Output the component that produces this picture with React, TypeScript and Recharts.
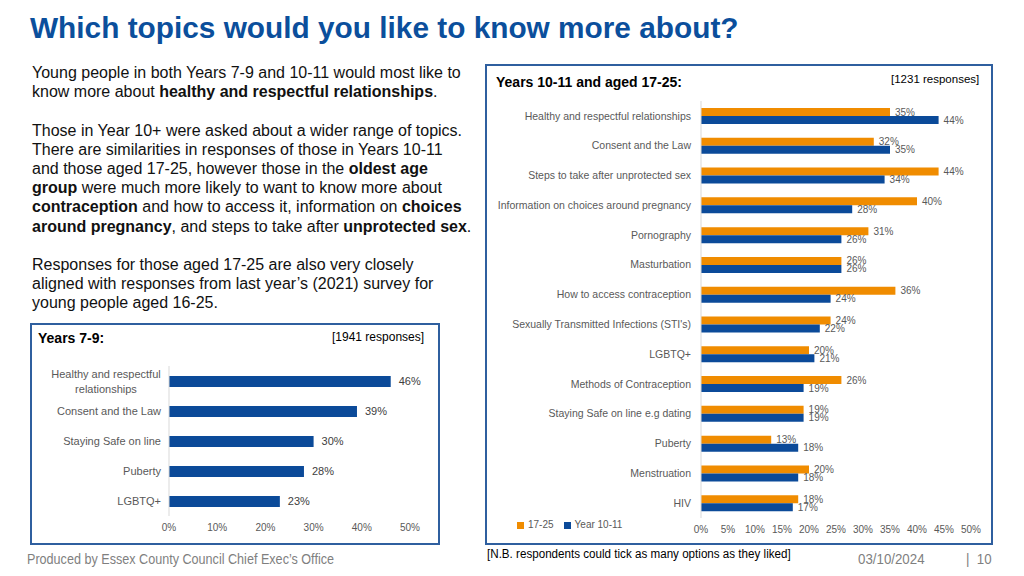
import { BarChart, Bar, XAxis, YAxis, LabelList, Legend } from "recharts";

const AZUL = "#0b4a99";
const LARANJA = "#f08c00";
const TITULO = "#0b4f9c";
const BORDA = "#2f5f9f";
const CINZA = "#595959";
const FONTE = "'Liberation Sans', Arial, sans-serif";

// Years 7-9
const topicos79 = [
  "Healthy and respectful relationships",
  "Consent and the Law",
  "Staying Safe on line",
  "Puberty",
  "LGBTQ+",
];
const valores79 = [0.46, 0.39, 0.3, 0.28, 0.23];
const ticks79 = [0, 0.1, 0.2, 0.3, 0.4, 0.5];

// Years 10-11 and aged 17-25
const topicos1025 = [
  "Healthy and respectful relationships",
  "Consent and the Law",
  "Steps to take after unprotected sex",
  "Information on choices around pregnancy",
  "Pornography",
  "Masturbation",
  "How to access contraception",
  "Sexually Transmitted Infections (STI's)",
  "LGBTQ+",
  "Methods of Contraception",
  "Staying Safe on line e.g dating",
  "Puberty",
  "Menstruation",
  "HIV",
];
const valores1725 = [0.35, 0.32, 0.44, 0.4, 0.31, 0.26, 0.36, 0.24, 0.2, 0.26, 0.19, 0.13, 0.2, 0.18];
const valoresAno1011 = [0.44, 0.35, 0.34, 0.28, 0.26, 0.26, 0.24, 0.22, 0.21, 0.19, 0.19, 0.18, 0.18, 0.17];
const ticks1025 = [0, 0.05, 0.1, 0.15, 0.2, 0.25, 0.3, 0.35, 0.4, 0.45, 0.5];

const dados79 = topicos79.map((t, i) => ({ topico: t, valor: valores79[i] }));
const dados1025 = topicos1025.map((t, i) => ({
  topico: t,
  "17-25": valores1725[i],
  "Year 10-11": valoresAno1011[i],
}));

const pct = (v: any) => `${Math.round(Number(v) * 100)}%`;

// eixo da esquerda: rótulo longo em duas linhas centradas
function TickQuebrado(props: any) {
  const { x, y, payload } = props;
  const texto: string = payload.value;
  if (texto.length > 24) {
    const palavras = texto.split(" ");
    const l1 = palavras.slice(0, 3).join(" ");
    const l2 = palavras.slice(3).join(" ");
    const meio = x - 55;
    return (
      <text x={meio} y={y} textAnchor="middle" fill={CINZA} fontSize={11} fontFamily={FONTE}>
        <tspan x={meio} dy="-0.25em">{l1}</tspan>
        <tspan x={meio} dy="1.3em">{l2}</tspan>
      </text>
    );
  }
  return (
    <text x={x} y={y} dy="0.35em" textAnchor="end" fill={CINZA} fontSize={11} fontFamily={FONTE}>
      {texto}
    </text>
  );
}

// eixo da direita: uma linha só
function TickSimples(props: any) {
  const { x, y, payload } = props;
  return (
    <text x={x - 2} y={y} dy="0.35em" textAnchor="end" fill={CINZA} fontSize={10.5} fontFamily={FONTE}>
      {payload.value}
    </text>
  );
}

function Caixa({ left, top, width, height }: any) {
  return (
    <div
      style={{
        position: "absolute",
        left,
        top,
        width,
        height,
        border: `2px solid ${BORDA}`,
        boxSizing: "border-box",
      }}
    />
  );
}

const rodape = (left: number, top: number, escala: number, cor: string, tam: number): any => ({
  position: "absolute",
  left,
  top,
  fontSize: tam,
  color: cor,
  whiteSpace: "nowrap",
  transform: `scaleX(${escala})`,
  transformOrigin: "left top",
});

export default function App() {
  return (
    <div
      style={{
        position: "absolute",
        left: 0,
        top: 0,
        width: 1024,
        height: 576,
        background: "#fff",
        fontFamily: FONTE,
        overflow: "hidden",
      }}
    >
      <div
        style={{
          position: "absolute",
          left: 30,
          top: 11,
          fontSize: 29.8,
          lineHeight: "34px",
          fontWeight: "bold",
          color: TITULO,
          whiteSpace: "nowrap",
        }}
      >
        Which topics would you like to know more about?
      </div>

      <div
        style={{
          position: "absolute",
          left: 32,
          top: 63,
          fontSize: 16,
          lineHeight: "19.2px",
          color: "#111",
          whiteSpace: "nowrap",
        }}
      >
        Young people in both Years 7-9 and 10-11 would most like to
        <br />
        know more about <b>healthy and respectful relationships</b>.
        <br />
        <br />
        Those in Year 10+ were asked about a wider range of topics.
        <br />
        There are similarities in responses of those in Years 10-11
        <br />
        and those aged 17-25, however those in the <b>oldest age</b>
        <br />
        <b>group</b> were much more likely to want to know more about
        <br />
        <b>contraception</b> and how to access it, information on <b>choices</b>
        <br />
        <b>around pregnancy</b>, and steps to take after <b>unprotected sex</b>.
        <br />
        <br />
        Responses for those aged 17-25 are also very closely
        <br />
        aligned with responses from last year’s (2021) survey for
        <br />
        young people aged 16-25.
      </div>

      {/* Years 7-9 */}
      <Caixa left={30} top={323} width={410} height={222} />
      <div style={{ position: "absolute", left: 38, top: 330, fontSize: 14, fontWeight: "bold", color: "#000" }}>
        Years 7-9:
      </div>
      <div style={{ position: "absolute", left: 332, top: 330, fontSize: 12, color: "#000" }}>
        [1941 responses]
      </div>
      <div style={{ position: "absolute", left: 30, top: 355 }}>
        <BarChart
          width={410}
          height={185}
          layout="vertical"
          data={dados79}
          margin={{ top: 11, right: 30, left: 0, bottom: 4 }}
        >
          <XAxis
            type="number"
            domain={[0, 0.5]}
            ticks={ticks79}
            tickFormatter={pct}
            axisLine={false}
            tickLine={false}
            height={20}
            tick={{ fill: CINZA, fontSize: 10, fontFamily: FONTE }}
          />
          <YAxis
            type="category"
            dataKey="topico"
            width={139}
            axisLine={{ stroke: "#d9d9d9" }}
            tickLine={false}
            tick={<TickQuebrado />}
            interval={0}
          />
          <Bar dataKey="valor" fill={AZUL} barSize={11} isAnimationActive={false}>
            <LabelList
              dataKey="valor"
              position="right"
              offset={8}
              formatter={pct}
              style={{ fontSize: 11, fill: "#404040", fontFamily: FONTE }}
            />
          </Bar>
        </BarChart>
      </div>

      {/* Years 10-11 and aged 17-25 */}
      <Caixa left={485} top={64} width={508} height={481} />
      <div style={{ position: "absolute", left: 496, top: 74, fontSize: 14, fontWeight: "bold", color: "#000" }}>
        Years 10-11 and aged 17-25:
      </div>
      <div style={{ position: "absolute", left: 891, top: 73, fontSize: 11.5, color: "#000" }}>
        [1231 responses]
      </div>
      <div style={{ position: "absolute", left: 487, top: 92 }}>
        <BarChart
          width={504}
          height={450}
          layout="vertical"
          data={dados1025}
          barGap={0}
          margin={{ top: 9, right: 20, left: 0, bottom: 4 }}
        >
          <XAxis
            type="number"
            domain={[0, 0.5]}
            ticks={ticks1025}
            tickFormatter={pct}
            axisLine={false}
            tickLine={false}
            height={20}
            tick={{ fill: CINZA, fontSize: 10, fontFamily: FONTE }}
          />
          <YAxis
            type="category"
            dataKey="topico"
            width={214}
            axisLine={{ stroke: "#d9d9d9" }}
            tickLine={false}
            interval={0}
            tick={<TickSimples />}
          />
          <Legend
            layout="horizontal"
            verticalAlign="middle"
            iconType="square"
            iconSize={7}
            wrapperStyle={{ left: 30, top: 427, width: "auto", fontSize: 10, fontFamily: FONTE }}
            formatter={(v: any) => <span style={{ color: CINZA }}>{v}</span>}
          />
          <Bar dataKey="17-25" fill={LARANJA} barSize={8} isAnimationActive={false}>
            <LabelList
              dataKey="17-25"
              position="right"
              offset={5}
              formatter={pct}
              style={{ fontSize: 10, fill: CINZA, fontFamily: FONTE }}
            />
          </Bar>
          <Bar dataKey="Year 10-11" fill={AZUL} barSize={8} isAnimationActive={false}>
            <LabelList
              dataKey="Year 10-11"
              position="right"
              offset={5}
              formatter={pct}
              style={{ fontSize: 10, fill: CINZA, fontFamily: FONTE }}
            />
          </Bar>
        </BarChart>
      </div>

      {/* rodapé */}
      <div style={rodape(27, 551, 0.9, "#7f7f7f", 14)}>
        Produced by Essex County Council Chief Exec’s Office
      </div>
      <div style={rodape(487, 547, 0.93, "#000", 12.5)}>
        [N.B. respondents could tick as many options as they liked]
      </div>
      <div style={rodape(858, 551, 0.95, "#7f7f7f", 14)}>03/10/2024</div>
      <div style={rodape(966, 551, 0.95, "#7f7f7f", 14)}>|&nbsp;&nbsp;10</div>
    </div>
  );
}
